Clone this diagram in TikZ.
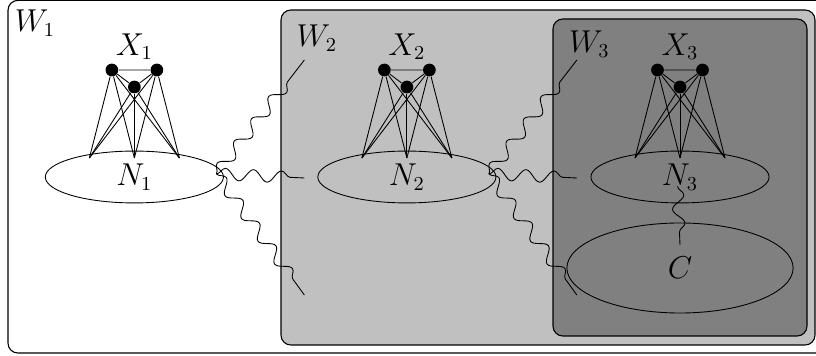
\documentclass[tikz,border=0pt]{standalone}
\usepackage{amsmath,amssymb}
\usepackage{tikz}
\usetikzlibrary{shapes.geometric,decorations.pathmorphing,calc}
\usepackage{xcolor}
\definecolor{wlight}{HTML}{C0C0C0}
\definecolor{wdark}{HTML}{808080}

\begin{document}
\begin{tikzpicture}[
  every node/.style={font=\fontsize{13.5}{16}\selectfont},
  world/.style={draw, rounded corners=4.5pt, line width=0.5pt},
  dot/.style={circle, fill=black, inner sep=0pt, minimum size=5.8pt},
  blob/.style={draw, ellipse, inner sep=0pt, minimum width=2.85cm, minimum height=0.83cm},
  wave/.style={decorate, decoration={snake, amplitude=2.7pt, segment length=0.45cm, post length=0.22cm}}
]
  \useasboundingbox (0,0) rectangle (13.056,5.696);

  % nested worlds
  \draw[world, fill=white] (0.128,0.048) rectangle (13.3,5.69);
  \draw[world, fill=wlight] (4.496,0.176) rectangle (13.04,5.536);
  \draw[world, fill=wdark] (8.848,0.32) rectangle (12.912,5.392);
  \node (w1) at (0.56,5.33) {$W_1$};
  \node (w2) at (5.07,5.09) {$W_2$};
  \node (w3) at (9.43,4.99) {$W_3$};

  % one clique and its neighbourhood per world
  \foreach \i/\x in {1/2.15, 2/6.51, 3/10.88} {
    \node[blob] (n\i) at (\x,2.864) {$N_\i$};
    \node (x\i) at (\x,4.95) {$X_\i$};
    \node[dot] (a\i) at (\x-0.36,4.576) {};
    \node[dot] (b\i) at (\x+0.36,4.576) {};
    \node[dot] (c\i) at (\x,4.304) {};
    \coordinate (p\i) at (\x-0.72,3.168);
    \coordinate (q\i) at (\x,3.168);
    \coordinate (r\i) at (\x+0.72,3.168);
    \draw (a\i) -- (b\i) -- (c\i) -- (a\i);
    \foreach \u in {a\i,b\i,c\i}
      \foreach \v in {p\i,q\i,r\i}
        \draw (\u) -- (\v);
  }

  \node[blob, minimum width=3.62cm, minimum height=1.44cm] (cset) at (10.88,1.408) {$C$};

  % wavy links
  \foreach \i/\x in {1/2.15, 2/6.51} {
    \coordinate (o\i) at ($(n\i.east)+(-0.12,0.05)$);
    \coordinate (t\i) at (\x+2.72,4.736);
    \coordinate (m\i) at (\x+2.72,2.848);
    \coordinate (d\i) at (\x+2.72,0.976);
    \draw[wave] (o\i) -- (t\i);
    \draw[wave] (o\i) -- (m\i);
    \draw[wave] (o\i) -- (d\i);
  }
  \coordinate (k) at (10.88,1.776);
  \draw[wave, decoration={post length=0.1cm}] ($(n3.center)+(-0.04,-0.15)$) -- (k);
\end{tikzpicture}
\end{document}
